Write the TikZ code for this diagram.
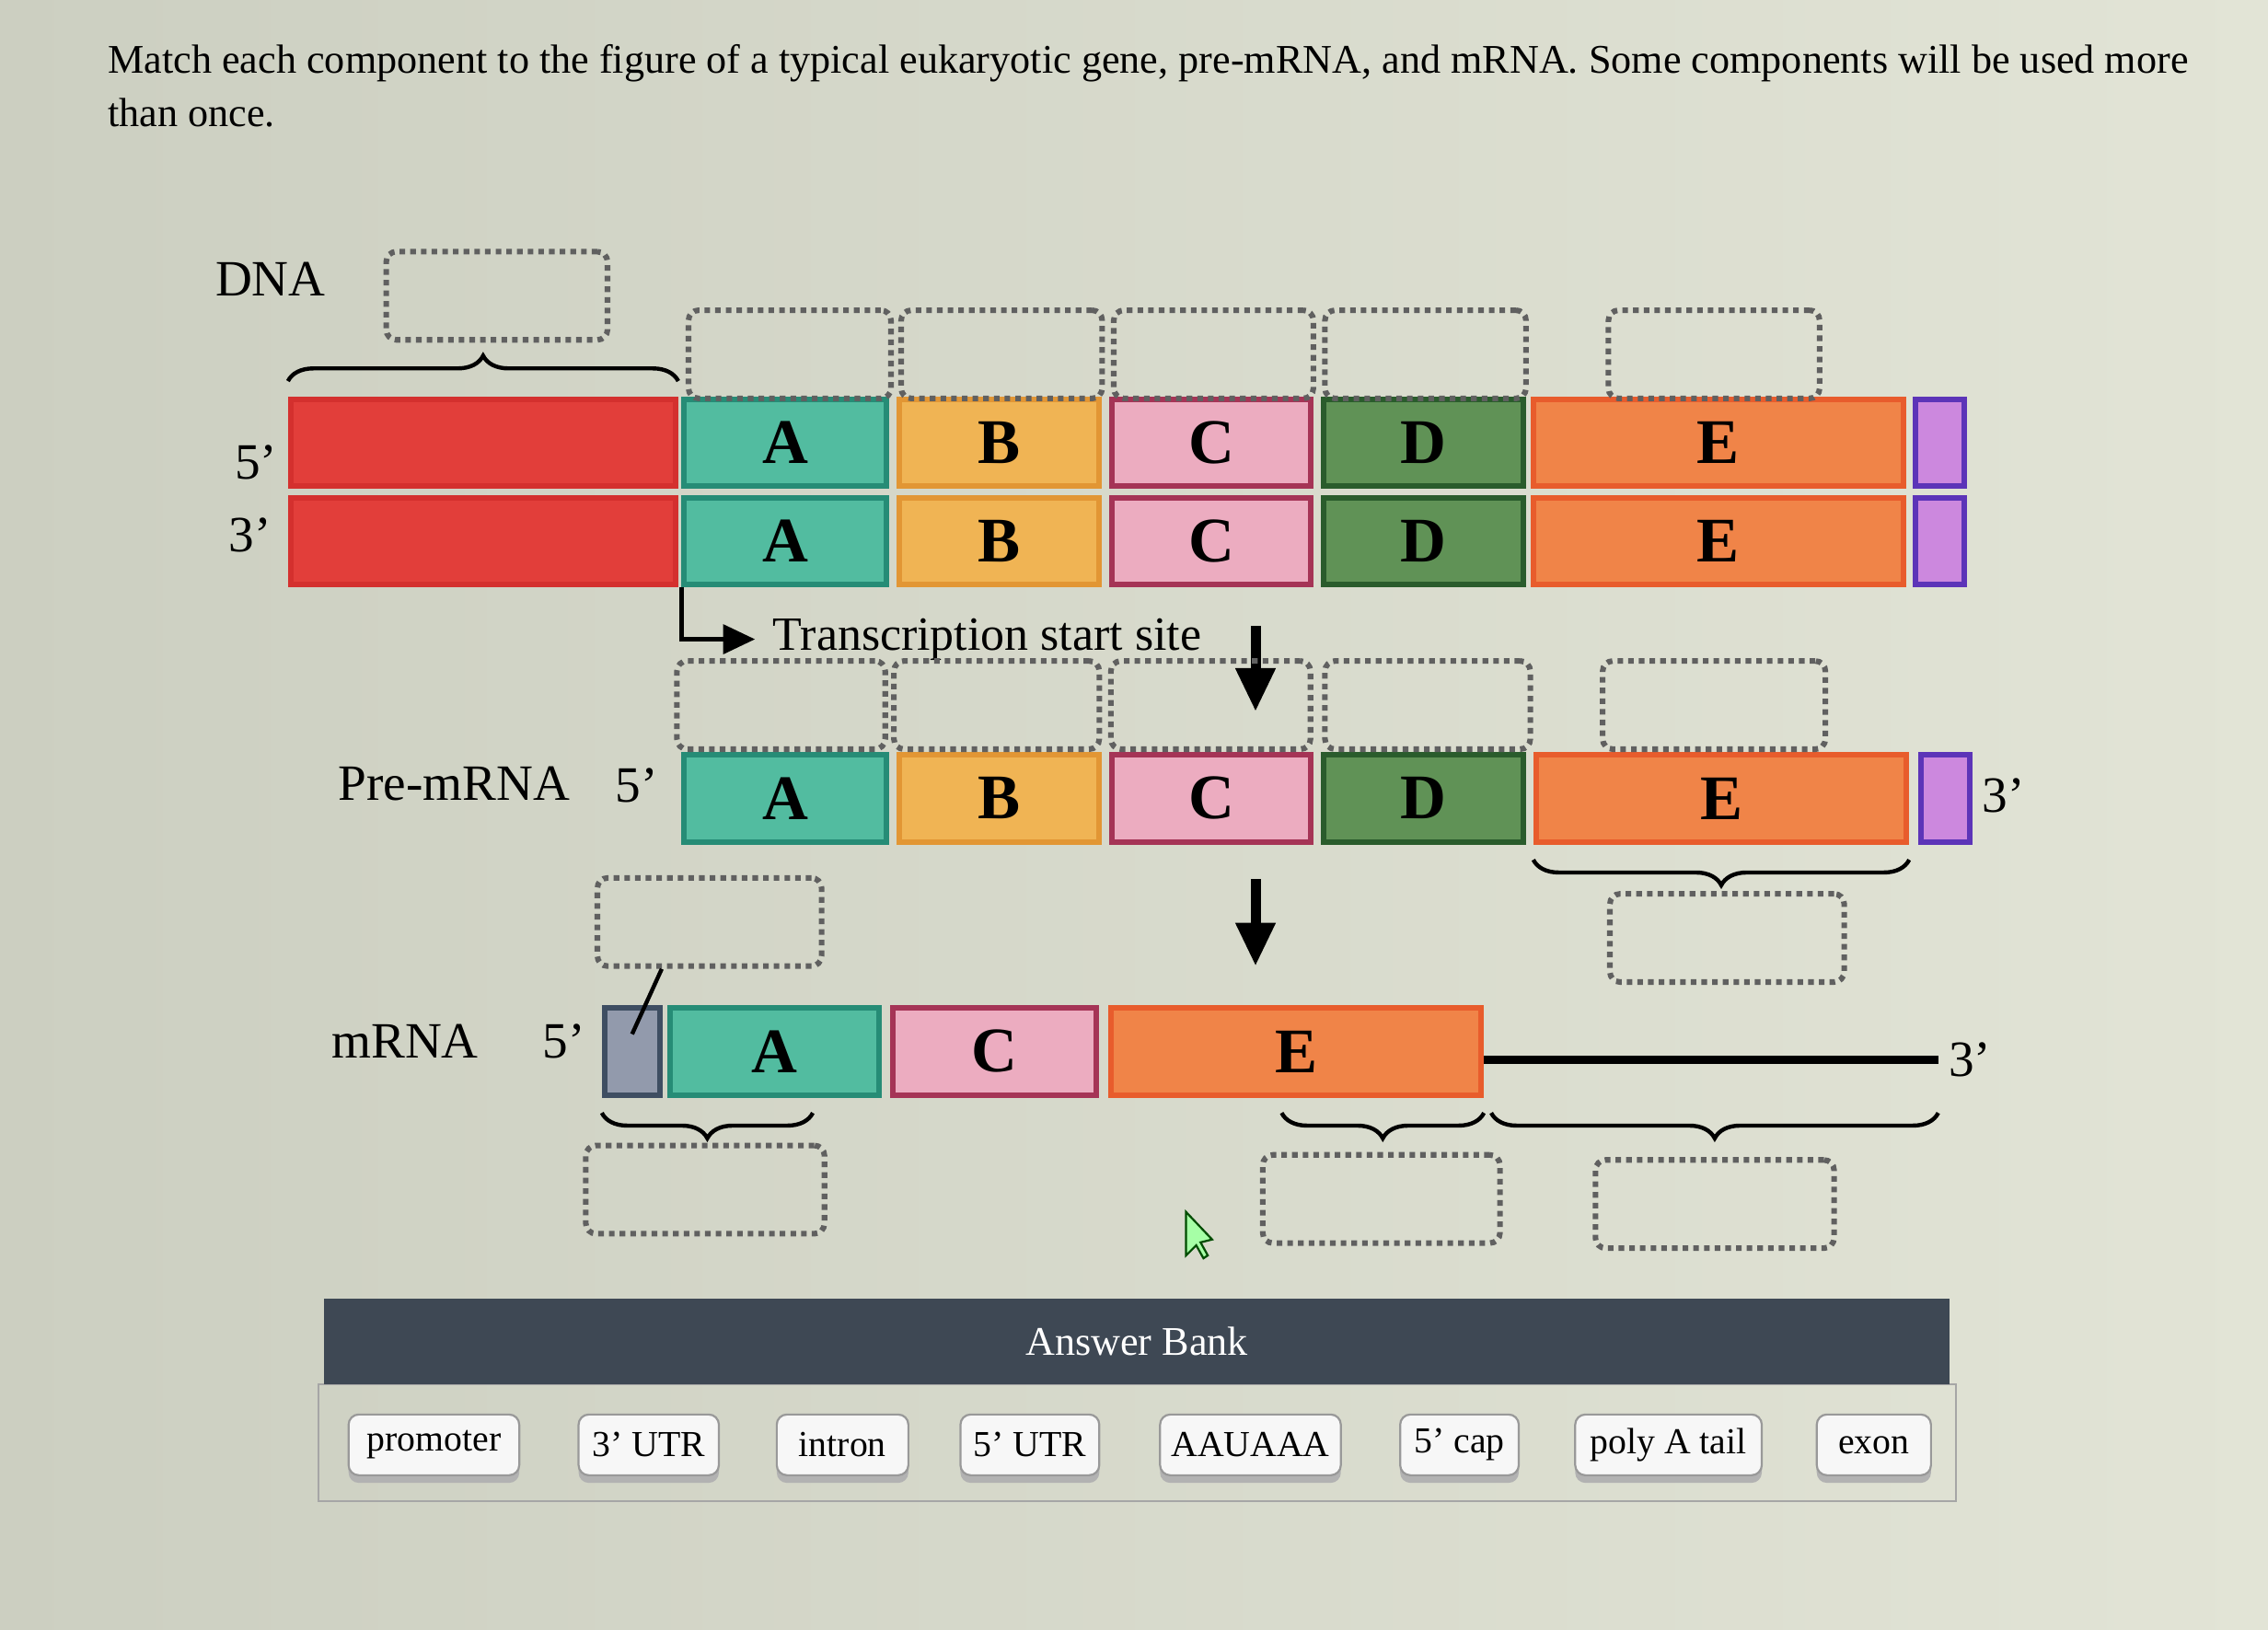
\documentclass[tikz,border=0pt]{standalone}
\usepackage{fontspec}
\setmainfont{Liberation Serif}
\usetikzlibrary{arrows.meta,positioning,decorations.pathreplacing,shadows}
\definecolor{bgL}{RGB}{204,207,193}
\definecolor{bgR}{RGB}{226,228,214}
\definecolor{proF}{RGB}{226,62,58}
\definecolor{proD}{RGB}{212,48,46}
\definecolor{tealF}{RGB}{82,188,160}
\definecolor{tealD}{RGB}{38,140,118}
\definecolor{goldF}{RGB}{240,180,84}
\definecolor{goldD}{RGB}{226,150,52}
\definecolor{pinkF}{RGB}{236,172,192}
\definecolor{pinkD}{RGB}{165,52,86}
\definecolor{grnF}{RGB}{96,146,86}
\definecolor{grnD}{RGB}{42,92,44}
\definecolor{orgF}{RGB}{240,132,72}
\definecolor{orgD}{RGB}{232,92,44}
\definecolor{purF}{RGB}{204,136,222}
\definecolor{purD}{RGB}{92,52,184}
\definecolor{capF}{RGB}{146,154,172}
\definecolor{capD}{RGB}{62,78,98}
\definecolor{bankH}{RGB}{62,72,84}
\tikzset{
  seg/.style={rectangle, draw, line width=1.1pt, inner sep=0pt, minimum height=6mm,
              font=\fontsize{12.5}{14}\selectfont\bfseries},
  pro/.style={seg, fill=proF, draw=proD},
  exA/.style={seg, fill=tealF, draw=tealD, minimum width=14mm},
  inB/.style={seg, fill=goldF, draw=goldD, minimum width=13.8mm},
  exC/.style={seg, fill=pinkF, draw=pinkD, minimum width=13.7mm},
  inD/.style={seg, fill=grnF, draw=grnD, minimum width=13.8mm},
  exE/.style={seg, fill=orgF, draw=orgD, minimum width=25.6mm},
  sig/.style={seg, fill=purF, draw=purD, minimum width=3.4mm},
  capbox/.style={seg, fill=capF, draw=capD, minimum width=3.8mm},
  slot/.style={rectangle, draw=gray!75!black, densely dotted, line width=1.1pt,
               rounded corners=2pt, inner sep=0pt, minimum height=6.1mm},
  brc/.style={decorate, decoration={brace, amplitude=5pt}, thick},
  brcm/.style={decorate, decoration={brace, mirror, amplitude=5pt}, thick},
  dn/.style={-{Triangle[length=3mm, width=2.6mm]}, line width=2pt},
  lbl/.style={font=\fontsize{10}{12}\selectfont},
  ans/.style={rectangle, draw=gray!80, rounded corners=2pt, fill=gray!6, inner sep=0pt,
              minimum height=4.2mm, font=\fontsize{7.2}{9}\selectfont,
              drop shadow={shadow xshift=0pt, shadow yshift=-1.5pt, fill=gray!60, opacity=1}}
}
\begin{document}
\begin{tikzpicture}
\useasboundingbox (0,0) rectangle (15.68,-11.27);
\shade[left color=bgL, right color=bgR] (0,0) rectangle (15.68,-11.27);
\node[anchor=north west, inner sep=0pt, align=left, font=\fontsize{8}{10.5}\selectfont]
  (q) at (0.74,-0.30) {Match each component to the figure of a typical eukaryotic gene, pre-mRNA, and mRNA. Some components will be used more\\than once.};

% DNA
\node[lbl] (dna) at (1.87,-1.93) {DNA};
\node[lbl] (d5) at (1.77,-3.20) {5'};
\node[lbl] (d3) at (1.73,-3.70) {3'};
\node[pro, minimum width=26.6mm] (pr1) at (3.34,-3.06) {};
\node[exA] (A1) at (5.43,-3.06) {A};
\node[inB] (B1) at (6.91,-3.06) {B};
\node[exC] (C1) at (8.375,-3.06) {C};
\node[inD] (D1) at (9.84,-3.06) {D};
\node[exE] (E1) at (11.88,-3.06) {E};
\node[sig] (P1) at (13.41,-3.06) {};
\node[pro, minimum width=26.6mm] (pr2) at (3.34,-3.74) {};
\node[exA] (A2) at (5.43,-3.74) {A};
\node[inB] (B2) at (6.91,-3.74) {B};
\node[exC] (C2) at (8.375,-3.74) {C};
\node[inD] (D2) at (9.84,-3.74) {D};
\node[exE] (E2) at (11.88,-3.74) {E};
\node[sig] (P2) at (13.41,-3.74) {};
\node[slot, minimum width=15.3mm] (s0) at (3.435,-2.045) {};
\node[slot, minimum width=14mm] (s1) at (5.46,-2.45) {};
\node[slot, minimum width=13.9mm] (s2) at (6.925,-2.45) {};
\node[slot, minimum width=13.8mm] (s3) at (8.39,-2.45) {};
\node[slot, minimum width=13.9mm] (s4) at (9.855,-2.45) {};
\node[slot, minimum width=14.6mm] (s5) at (11.85,-2.45) {};
\draw[brc] ([yshift=3pt]pr1.north west) -- ([yshift=3pt]pr1.north east);
\node[lbl, anchor=west, font=\fontsize{9.4}{11}\selectfont] (tss) at (5.22,-4.42) {Transcription start site};
\draw[-{Triangle[length=2.2mm, width=2mm]}, line width=0.9pt] (A2.south west) |- (tss.west);
\coordinate (t1) at (8.68,-4.33);
\coordinate (t2) at (8.68,-4.92);
\draw[dn] (t1) -- (t2);

% pre-mRNA
\node[lbl] (pre) at (3.14,-5.42) {Pre-mRNA};
\node[lbl] (p5) at (4.40,-5.43) {5'};
\node[exA] (A3) at (5.43,-5.52) {A};
\node[inB] (B3) at (6.91,-5.52) {B};
\node[exC] (C3) at (8.375,-5.52) {C};
\node[inD] (D3) at (9.84,-5.52) {D};
\node[exE] (E3) at (11.90,-5.52) {E};
\node[sig] (P3) at (13.45,-5.52) {};
\node[lbl] (p3) at (13.85,-5.50) {3'};
\node[slot, minimum width=14.4mm] (s6) at (5.40,-4.875) {};
\node[slot, minimum width=14.2mm] (s7) at (6.89,-4.875) {};
\node[slot, minimum width=13.8mm] (s8) at (8.37,-4.875) {};
\node[slot, minimum width=14.2mm] (s9) at (9.87,-4.875) {};
\node[slot, minimum width=15.4mm] (s10) at (11.85,-4.875) {};
\draw[brcm] ([yshift=-3pt]E3.south west) -- ([yshift=-3pt]E3.south east);
\node[slot, minimum width=16.2mm] (s11) at (11.94,-6.485) {};
\coordinate (t3) at (8.68,-6.08);
\coordinate (t4) at (8.68,-6.68);
\draw[dn] (t3) -- (t4);

% mRNA
\node[lbl] (mr) at (2.80,-7.20) {mRNA};
\node[lbl] (m5) at (3.90,-7.20) {5'};
\node[capbox] (cap4) at (4.37,-7.27) {};
\node[exA, minimum width=14.5mm] (A4) at (5.355,-7.27) {A};
\node[exC, minimum width=14.1mm] (C4) at (6.875,-7.27) {C};
\node[exE] (E4) at (8.96,-7.27) {E};
\coordinate (tail) at (13.40,-7.33);
\node[lbl] (m3) at (13.62,-7.33) {3'};
\draw[line width=1.6pt] (E4.east |- tail) -- (tail);
\node[slot, minimum width=15.5mm] (s12) at (4.905,-6.375) {};
\draw[thick] ([xshift=-3.3mm]s12.south) -- ([yshift=1.2mm]cap4.center);
\draw[brcm] ([yshift=-3pt]cap4.south west) -- ([xshift=-4.8mm, yshift=-3pt]A4.south east);
\draw[brcm] ([xshift=12mm, yshift=-3pt]E4.south west) -- ([yshift=-3pt]E4.south east);
\draw[brcm] ([xshift=0.5mm, yshift=-3pt]E4.south east) -- ([yshift=-3pt]tail |- E4.south);
\node[slot, minimum width=16.5mm] (s13) at (4.875,-8.225) {};
\node[slot, minimum width=16.4mm] (s14) at (9.55,-8.29) {};
\node[slot, minimum width=16.5mm] (s15) at (11.855,-8.325) {};

% pointer
\filldraw[fill=green!35!white, draw=green!30!black, thin] (8.20,-8.38) -- (8.20,-8.68) -- (8.27,-8.61)
  -- (8.32,-8.70) -- (8.35,-8.68) -- (8.30,-8.59) -- (8.38,-8.57) -- cycle;

% answer bank
\node[draw=gray!70, minimum width=113.2mm, minimum height=8.1mm] (pan) at (7.86,-9.975) {};
\node[fill=bankH, text=white, minimum width=112.4mm, minimum height=5.9mm,
      font=\fontsize{8}{10}\selectfont] (bank) at (7.86,-9.275) {Answer Bank};
\node[ans, minimum width=11.8mm] (w1) at (3.00,-9.99) {promoter};
\node[ans, minimum width=9.7mm] (w2) at (4.485,-9.99) {3' UTR};
\node[ans, minimum width=9.1mm] (w3) at (5.825,-9.99) {intron};
\node[ans, minimum width=9.6mm] (w4) at (7.12,-9.99) {5' UTR};
\node[ans, minimum width=12.5mm] (w5) at (8.645,-9.99) {AAUAAA};
\node[ans, minimum width=8.2mm] (w6) at (10.09,-9.99) {5' cap};
\node[ans, minimum width=12.9mm] (w7) at (11.535,-9.99) {poly A tail};
\node[ans, minimum width=7.9mm] (w8) at (12.955,-9.99) {exon};
\end{tikzpicture}
\end{document}
